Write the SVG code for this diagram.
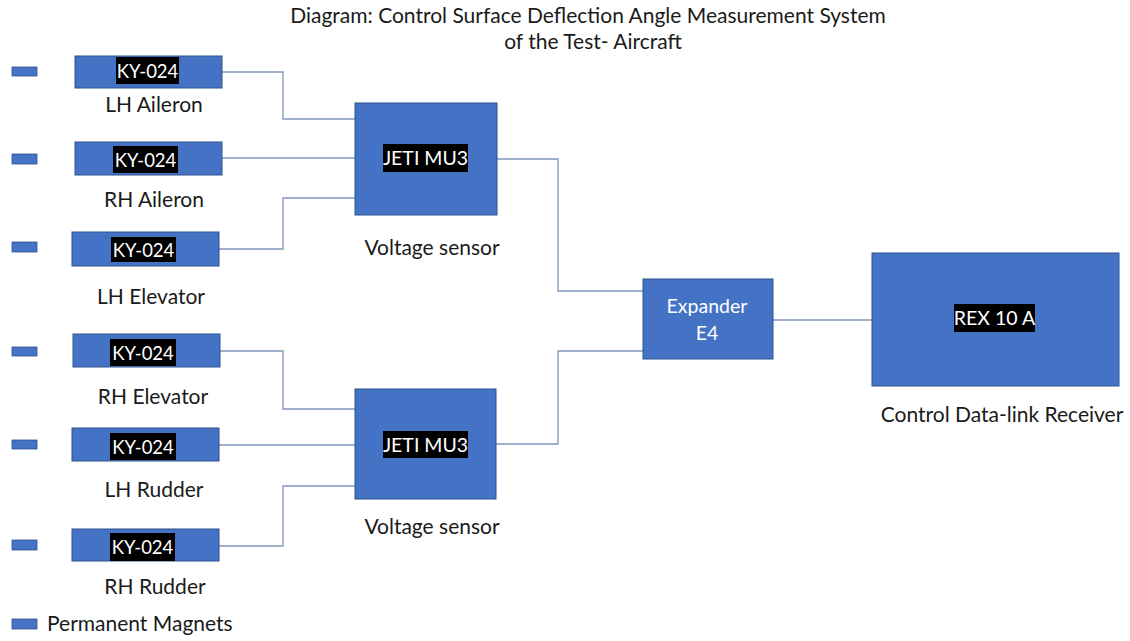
<svg xmlns="http://www.w3.org/2000/svg" width="1130" height="641" viewBox="0 0 1130 641">
<style>
.box{fill:#4472C4;stroke:#2F528F;stroke-width:1}
.mag{fill:#4472C4;stroke:#2F528F;stroke-width:0.8}
.hl{fill:#000}
.t{font-family:Lato,"Open Sans","Liberation Sans",sans-serif;font-size:21px;fill:#1a1a1a;text-anchor:middle}
.w{font-family:Lato,"Open Sans","Liberation Sans",sans-serif;font-size:19.5px;fill:#fff;text-anchor:middle}
.k{font-size:18.5px}
.c{fill:none;stroke:#7F97BC;stroke-width:1.3}
</style>
<rect width="1130" height="641" fill="#fff"/>
<g id="title">
<text class="t" x="588" y="23" font-size="20">Diagram: Control Surface Deflection Angle Measurement System</text>
<text class="t" x="593" y="49" font-size="20">of the Test- Aircraft</text>
</g>
<g id="connectors">
<path class="c" d="M222,72 H283 V119 H355"/>
<path class="c" d="M222,158 H355"/>
<path class="c" d="M219,249 H283 V198 H355"/>
<path class="c" d="M220,351 H283 V409 H355"/>
<path class="c" d="M219,445 H355"/>
<path class="c" d="M219,546 H283 V486 H355"/>
<path class="c" d="M497,159 H558 V291 H643"/>
<path class="c" d="M496,444 H558 V351 H643"/>
<path class="c" d="M773,320 H872"/>
</g>
<g id="magnet1"><rect class="mag" x="12" y="67" width="25" height="9"/></g>
<g id="magnet2"><rect class="mag" x="12" y="154" width="25" height="10"/></g>
<g id="magnet3"><rect class="mag" x="12" y="242" width="25" height="10"/></g>
<g id="magnet4"><rect class="mag" x="12" y="347" width="25" height="9"/></g>
<g id="magnet5"><rect class="mag" x="12" y="440" width="25" height="9"/></g>
<g id="magnet6"><rect class="mag" x="12" y="540" width="25" height="10"/></g>
<g id="ky1">
<rect class="box" x="75" y="56" width="147" height="32"/>
<rect class="hl" x="116" y="57" width="63" height="27"/>
<text class="w k" x="147.5" y="77.5">KY-024</text>
<text class="t" x="154" y="112">LH Aileron</text>
</g>
<g id="ky2">
<rect class="box" x="75" y="142" width="147" height="33"/>
<rect class="hl" x="113" y="146" width="65" height="27"/>
<text class="w k" x="145.5" y="166.5">KY-024</text>
<text class="t" x="154" y="207">RH Aileron</text>
</g>
<g id="ky3">
<rect class="box" x="72" y="232" width="147" height="34"/>
<rect class="hl" x="111" y="237" width="65" height="25"/>
<text class="w k" x="143.5" y="256.5">KY-024</text>
<text class="t" x="151" y="304">LH Elevator</text>
</g>
<g id="ky4">
<rect class="box" x="73" y="334" width="147" height="33"/>
<rect class="hl" x="110" y="339" width="66" height="27"/>
<text class="w k" x="143" y="359.5">KY-024</text>
<text class="t" x="153" y="404">RH Elevator</text>
</g>
<g id="ky5">
<rect class="box" x="72" y="428" width="147" height="33"/>
<rect class="hl" x="110" y="433" width="66" height="27"/>
<text class="w k" x="143" y="453.5">KY-024</text>
<text class="t" x="154" y="497">LH Rudder</text>
</g>
<g id="ky6">
<rect class="box" x="72" y="529" width="147" height="32"/>
<rect class="hl" x="110" y="533" width="65" height="28"/>
<text class="w k" x="142.5" y="553.5">KY-024</text>
<text class="t" x="155" y="594">RH Rudder</text>
</g>
<g id="jeti1">
<rect class="box" x="355" y="103" width="142" height="112"/>
<rect class="hl" x="383" y="144" width="85" height="28"/>
<text class="w" x="425.5" y="165">JETI MU3</text>
<text class="t" x="432" y="255">Voltage sensor</text>
</g>
<g id="jeti2">
<rect class="box" x="355" y="389" width="141" height="110"/>
<rect class="hl" x="383" y="431" width="85" height="27"/>
<text class="w" x="425.5" y="452">JETI MU3</text>
<text class="t" x="432" y="534">Voltage sensor</text>
</g>
<g id="expander">
<rect class="box" x="643" y="279" width="130" height="80"/>
<text class="w" x="707" y="313" font-size="21">Expander</text>
<text class="w" x="707" y="340" font-size="21">E4</text>
</g>
<g id="rex">
<rect class="box" x="872" y="253" width="247" height="133"/>
<rect class="hl" x="954" y="304" width="81" height="28"/>
<text class="w" x="994.5" y="325">REX 10 A</text>
<text class="t" x="1002" y="422">Control Data-link Receiver</text>
</g>
<g id="legend">
<rect class="mag" x="12" y="619" width="25" height="10"/>
<text class="t" x="47" y="631" style="text-anchor:start">Permanent Magnets</text>
</g>
</svg>
